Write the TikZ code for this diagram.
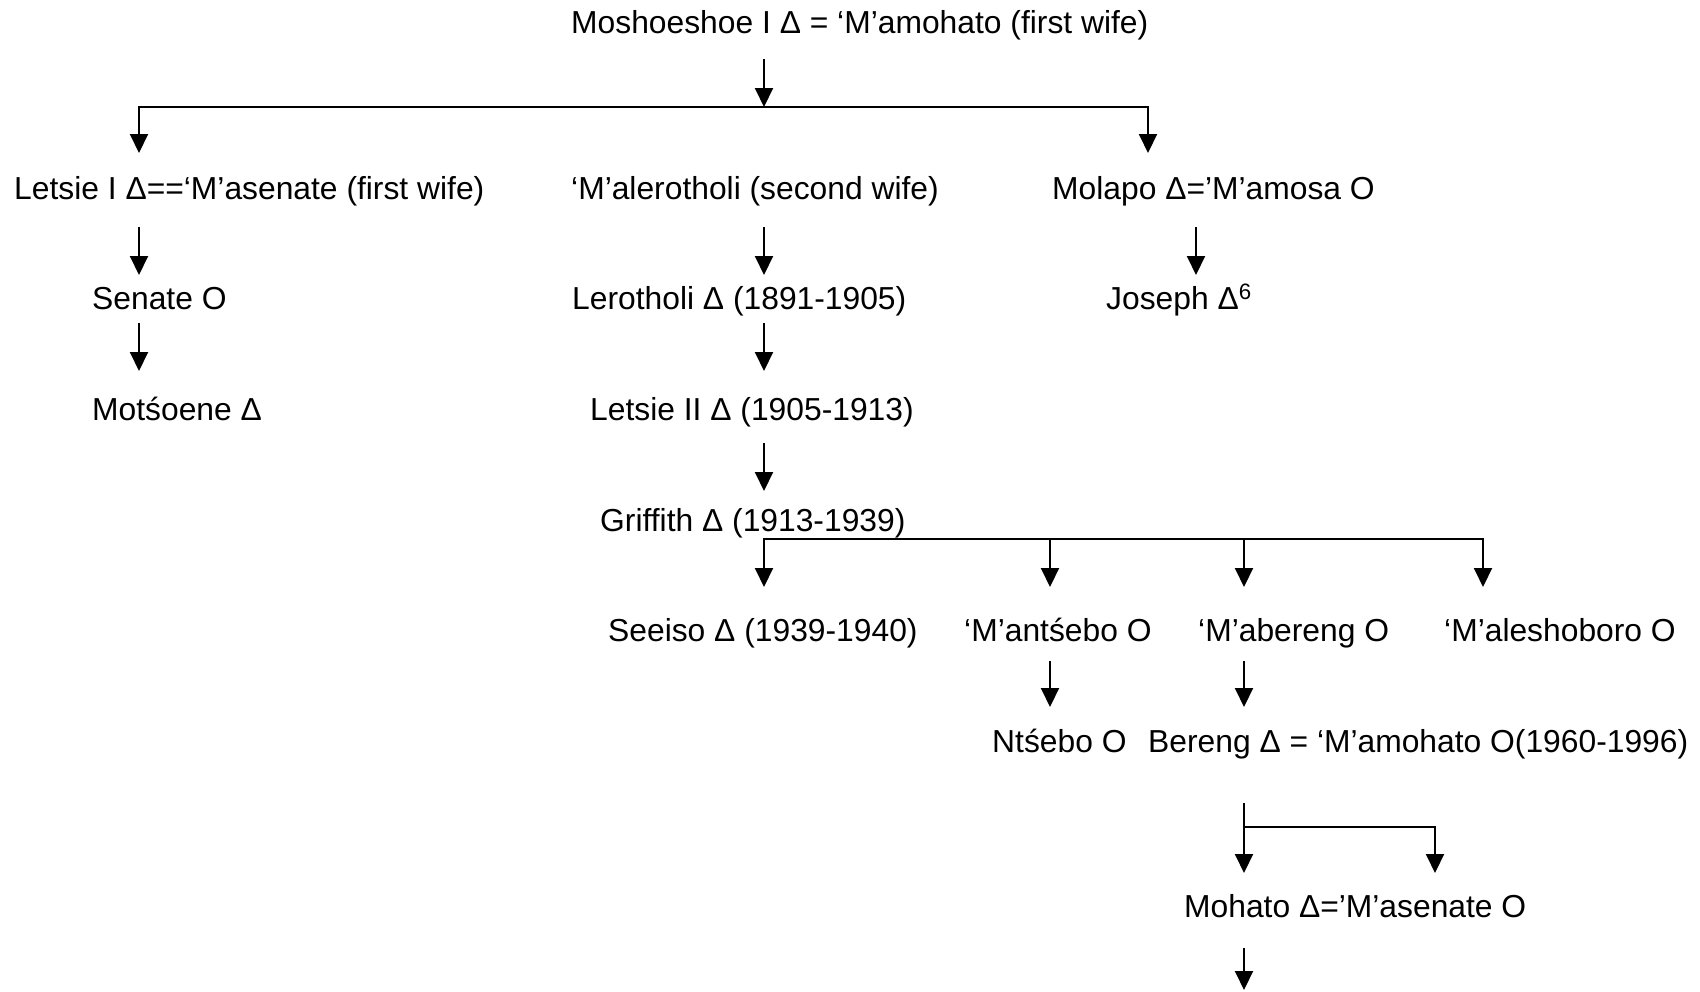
\documentclass[tikz,border=0pt]{standalone}
\usepackage{fontspec}
\setmainfont{Liberation Sans}
\usetikzlibrary{arrows.meta}
\tikzset{
  lbl/.style={anchor=base west,inner sep=0pt,font=\fontsize{31.8}{36}\selectfont},
  arr/.style={line width=2pt,-{Triangle[length=19pt,width=18pt]}},
  arrboth/.style={line width=2pt,{Triangle[length=19pt,width=18pt]}-{Triangle[length=19pt,width=18pt]}}
}
\begin{document}
\begin{tikzpicture}[x=1pt,y=-1pt]
\useasboundingbox (0,0) rectangle (1700,991);

% texts
\node[lbl] (moshoeshoe) at (571,33) {Moshoeshoe I Δ = ‘M’amohato (first wife)};
\node[lbl] (letsie1) at (14,199) {Letsie I Δ==‘M’asenate (first wife)};
\node[lbl] (malerotholi) at (571,199) {‘M’alerotholi (second wife)};
\node[lbl] (molapo) at (1052,199) {Molapo Δ=’M’amosa O};
\node[lbl] (senate) at (92,309) {Senate O};
\node[lbl] (lerotholi) at (572,309) {Lerotholi Δ (1891-1905)};
\node[lbl] (joseph) at (1106,309) {Joseph Δ\textsuperscript{6}};
\node[lbl] (motsoene) at (92,420) {Motśoene Δ};
\node[lbl] (letsie2) at (590,420) {Letsie II Δ (1905-1913)};
\node[lbl] (griffith) at (600,531) {Griffith Δ (1913-1939)};
\node[lbl] (seeiso) at (608,641) {Seeiso Δ (1939-1940)};
\node[lbl] (mantsebo) at (964,641) {‘M’antśebo O};
\node[lbl] (mabereng) at (1198,641) {‘M’abereng O};
\node[lbl] (maleshoboro) at (1444,641) {‘M’aleshoboro O};
\node[lbl] (ntsebo) at (992,752) {Ntśebo O};
\node[lbl] (bereng) at (1148,752) {Bereng Δ = ‘M’amohato O(1960-1996)};
\node[lbl] (mohato) at (1184,917) {Mohato Δ=’M’asenate O};

% coordinates
\coordinate (a0s) at (764,59);
\coordinate (j0) at (764,107);
\coordinate (j0l) at (139,107);
\coordinate (j0r) at (1148,107);
\coordinate (e0l) at (139,153);
\coordinate (e0r) at (1148,153);

\coordinate (a1s) at (139,227); \coordinate (a1e) at (139,275);
\coordinate (a2s) at (764,227); \coordinate (a2e) at (764,275);
\coordinate (a3s) at (1196,227); \coordinate (a3e) at (1196,275);
\coordinate (a4s) at (139,323); \coordinate (a4e) at (139,371);
\coordinate (a5s) at (764,323); \coordinate (a5e) at (764,371);
\coordinate (a6s) at (764,443); \coordinate (a6e) at (764,491);

\coordinate (g0l) at (764,539);
\coordinate (g0r) at (1483,539);
\coordinate (g1) at (1050,539);
\coordinate (g2) at (1244,539);
\coordinate (ge0) at (764,587);
\coordinate (ge1) at (1050,587);
\coordinate (ge2) at (1244,587);
\coordinate (ge3) at (1483,587);

\coordinate (a7s) at (1050,661); \coordinate (a7e) at (1050,707);
\coordinate (a8s) at (1244,661); \coordinate (a8e) at (1244,707);

\coordinate (b0s) at (1244,803);
\coordinate (b0j) at (1244,827);
\coordinate (b0r) at (1435,827);
\coordinate (b0e) at (1244,873);
\coordinate (b1e) at (1435,873);

\coordinate (a9s) at (1244,948); \coordinate (a9e) at (1244,990);

% connectors
\draw[arr] (a0s) -- (j0);
\draw[arrboth] (e0l) -- (j0l) -- (j0r) -- (e0r);
\draw[arr] (a1s) -- (a1e);
\draw[arr] (a2s) -- (a2e);
\draw[arr] (a3s) -- (a3e);
\draw[arr] (a4s) -- (a4e);
\draw[arr] (a5s) -- (a5e);
\draw[arr] (a6s) -- (a6e);
\draw[arrboth] (ge0) -- (g0l) -- (g0r) -- (ge3);
\draw[arr] (g1) -- (ge1);
\draw[arr] (g2) -- (ge2);
\draw[arr] (a7s) -- (a7e);
\draw[arr] (a8s) -- (a8e);
\draw[arr] (b0s) -- (b0e);
\draw[arr] (b0j) -- (b0r) -- (b1e);
\draw[arr] (a9s) -- (a9e);
\end{tikzpicture}
\end{document}
